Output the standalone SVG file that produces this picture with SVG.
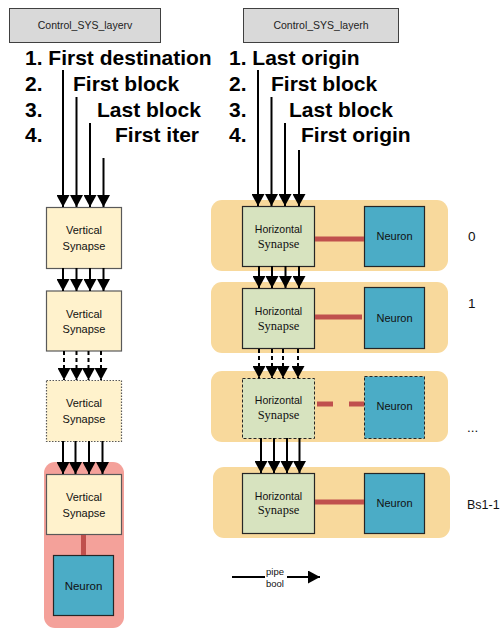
<svg xmlns="http://www.w3.org/2000/svg" width="501" height="629" viewBox="0 0 501 629">
  <defs>
    <marker id="head" markerUnits="userSpaceOnUse" markerWidth="13" markerHeight="13" viewBox="0 0 12 13" refX="12" refY="6.5" orient="auto">
      <path d="M0,0 L12,6.5 L0,13 Z" fill="#000"/>
    </marker>
    <style>
      .ctrl { fill: #d9d9d9; stroke: #404040; stroke-width: 1; }
      .ctrl-t { font-family: "Liberation Sans", Arial, sans-serif; font-size: 10.5px; fill: #222; text-anchor: middle; }
      .big { font-family: "Liberation Sans", Arial, sans-serif; font-size: 21px; font-weight: bold; fill: #000; }
      .vsyn { fill: #fff2cc; stroke: #595959; stroke-width: 1.2; }
      .vsyn-dot { fill: #fff2cc; stroke: #595959; stroke-width: 1.2; stroke-dasharray: 1.5 1.5; }
      .hsyn { fill: #d7e3bf; stroke: #262626; stroke-width: 1.2; }
      .hsyn-dash { fill: #d7e3bf; stroke: #262626; stroke-width: 1; stroke-dasharray: 3 2; }
      .neu { fill: #4bacc6; stroke: #262626; stroke-width: 1.2; }
      .neu-dash { fill: #4bacc6; stroke: #262626; stroke-width: 1; stroke-dasharray: 3 2; }
      .row { fill: #f8d99c; }
      .cell { fill: #f4a19a; }
      .lbl { font-family: "Liberation Sans", Arial, sans-serif; font-size: 11px; fill: #111; text-anchor: middle; }
      .serif { font-family: "Liberation Serif", "Times New Roman", serif; font-size: 12.5px; fill: #111; text-anchor: middle; }
      .idx { font-family: "Liberation Sans", Arial, sans-serif; font-size: 13.5px; fill: #111; }
      .small { font-family: "Liberation Sans", Arial, sans-serif; font-size: 9.5px; fill: #111; text-anchor: middle; }
      .wire { stroke: #000; stroke-width: 2; fill: none; marker-end: url(#head); }
      .wire-dash { stroke: #000; stroke-width: 2; fill: none; stroke-dasharray: 4 3; marker-end: url(#head); }
      .link { stroke: #c0504d; stroke-width: 5; fill: none; }
    </style>
  </defs>

  <rect width="501" height="629" fill="#fff"/>

  <!-- control blocks -->
  <g id="ctrl-v">
    <rect class="ctrl" x="9.5" y="8.5" width="151" height="34"/>
    <text class="ctrl-t" x="85" y="29">Control_SYS_layerv</text>
  </g>
  <g id="ctrl-h">
    <rect class="ctrl" x="243.5" y="8.5" width="155" height="34"/>
    <text class="ctrl-t" x="321" y="29">Control_SYS_layerh</text>
  </g>

  <!-- signal lists -->
  <g id="list-v">
    <text class="big" x="25" y="65">1. First destination</text>
    <text class="big" y="91"><tspan x="25">2.</tspan><tspan x="73">First block</tspan></text>
    <text class="big" y="117"><tspan x="25">3.</tspan><tspan x="97">Last block</tspan></text>
    <text class="big" y="142"><tspan x="25">4.</tspan><tspan x="115">First iter</tspan></text>
  </g>
  <g id="list-h">
    <text class="big" x="229" y="65">1. Last origin</text>
    <text class="big" y="91"><tspan x="229">2.</tspan><tspan x="271">First block</tspan></text>
    <text class="big" y="117"><tspan x="229">3.</tspan><tspan x="289">Last block</tspan></text>
    <text class="big" y="142"><tspan x="229">4.</tspan><tspan x="301">First origin</tspan></text>
  </g>

  <!-- vertical chain -->
  <g id="vsyn-0">
    <rect class="vsyn" x="46.5" y="207.5" width="75" height="61"/>
    <text class="lbl" x="84" y="234">Vertical</text>
    <text class="lbl" x="84" y="249.5">Synapse</text>
  </g>
  <g id="vsyn-1">
    <rect class="vsyn" x="46.5" y="291" width="75" height="60"/>
    <text class="lbl" x="84" y="317.5">Vertical</text>
    <text class="lbl" x="84" y="333">Synapse</text>
  </g>
  <g id="vsyn-2">
    <rect class="vsyn-dot" x="46.5" y="380.5" width="75" height="61"/>
    <text class="lbl" x="84" y="407">Vertical</text>
    <text class="lbl" x="84" y="422.5">Synapse</text>
  </g>
  <g id="vcell-last">
    <rect class="cell" x="44" y="462" width="80" height="166" rx="11"/>
    <rect class="vsyn" x="46.5" y="474.5" width="75" height="60"/>
    <text class="lbl" x="84" y="501">Vertical</text>
    <text class="lbl" x="84" y="516.5">Synapse</text>
    <rect class="neu" x="53.5" y="555.5" width="60" height="60"/>
    <text class="lbl" x="83.5" y="589.5" style="font-size:11.5px">Neuron</text>
  </g>

  <!-- horizontal rows -->
  <g id="hrow-0">
    <rect class="row" x="211" y="200" width="237" height="71" rx="11"/>
    <rect class="hsyn" x="242.5" y="206.5" width="72" height="60"/>
    <text class="lbl" x="278.5" y="233" style="font-size:10.5px">Horizontal</text>
    <text class="serif" x="278.5" y="247.5">Synapse</text>
    <rect class="neu" x="364.5" y="206.5" width="60" height="60"/>
    <text class="lbl" x="394.5" y="240">Neuron</text>
    <text class="idx" x="468" y="241">0</text>
  </g>
  <g id="hrow-1">
    <rect class="row" x="211" y="282" width="237" height="71" rx="11"/>
    <rect class="hsyn" x="242.5" y="288.5" width="72" height="60"/>
    <text class="lbl" x="278.5" y="315" style="font-size:10.5px">Horizontal</text>
    <text class="serif" x="278.5" y="329.5">Synapse</text>
    <rect class="neu" x="364.5" y="287.5" width="60" height="61"/>
    <text class="lbl" x="394.5" y="322">Neuron</text>
    <text class="idx" x="468" y="308">1</text>
  </g>
  <g id="hrow-2">
    <rect class="row" x="211" y="371" width="237" height="71" rx="11"/>
    <rect class="hsyn-dash" x="242.5" y="378.5" width="72" height="60"/>
    <text class="lbl" x="278.5" y="404" style="font-size:10.5px">Horizontal</text>
    <text class="serif" x="278.5" y="418.5">Synapse</text>
    <rect class="neu-dash" x="364.5" y="376.5" width="60" height="62"/>
    <text class="lbl" x="394.5" y="410">Neuron</text>
    <text class="idx" x="467" y="432">...</text>
  </g>
  <g id="hrow-last">
    <rect class="row" x="213" y="467" width="237" height="71" rx="11"/>
    <rect class="hsyn" x="242.5" y="473.5" width="72" height="60"/>
    <text class="lbl" x="278.5" y="499.5" style="font-size:10.5px">Horizontal</text>
    <text class="serif" x="278.5" y="514">Synapse</text>
    <rect class="neu" x="364.5" y="473.5" width="60" height="60"/>
    <text class="lbl" x="394.5" y="506.5">Neuron</text>
    <text class="idx" x="467" y="509" style="font-size:12.5px">Bs1-1</text>
  </g>

  <!-- legend -->
  <g id="legend">
    <line x1="232" y1="577" x2="265" y2="577" stroke="#000" stroke-width="2"/>
    <line x1="287" y1="577" x2="320" y2="577" stroke="#000" stroke-width="2" marker-end="url(#head)"/>
    <text class="small" x="275" y="575">pipe</text>
    <text class="small" x="275" y="587">bool</text>
  </g>

  <!-- connectors -->
  <g id="connectors">
    <!-- control lines into the vertical chain -->
    <line class="wire" x1="63" y1="70" x2="63" y2="207"/>
    <line class="wire" x1="76.5" y1="97" x2="76.5" y2="207"/>
    <line class="wire" x1="90" y1="123" x2="90" y2="207"/>
    <line class="wire" x1="103.5" y1="158" x2="103.5" y2="207"/>

    <line class="wire" x1="63" y1="268" x2="63" y2="291"/>
    <line class="wire" x1="76.5" y1="268" x2="76.5" y2="291"/>
    <line class="wire" x1="90" y1="268" x2="90" y2="291"/>
    <line class="wire" x1="103.5" y1="268" x2="103.5" y2="291"/>

    <line class="wire-dash" x1="64" y1="351" x2="64" y2="380"/>
    <line class="wire-dash" x1="76.5" y1="351" x2="76.5" y2="380"/>
    <line class="wire-dash" x1="88.5" y1="351" x2="88.5" y2="380"/>
    <line class="wire-dash" x1="101" y1="351" x2="101" y2="380"/>

    <line class="wire" x1="63" y1="441" x2="63" y2="474"/>
    <line class="wire" x1="75.5" y1="441" x2="75.5" y2="474"/>
    <line class="wire" x1="89" y1="441" x2="89" y2="474"/>
    <line class="wire" x1="102.5" y1="441" x2="102.5" y2="474" stroke="#444"/>

    <!-- control lines into the horizontal chain -->
    <line class="wire" x1="258" y1="70" x2="258" y2="206"/>
    <line class="wire" x1="271.5" y1="97" x2="271.5" y2="206"/>
    <line class="wire" x1="285" y1="123" x2="285" y2="206"/>
    <line class="wire" x1="299" y1="150" x2="299" y2="206"/>

    <line class="wire" x1="259" y1="266" x2="259" y2="288"/>
    <line class="wire" x1="272" y1="266" x2="272" y2="288"/>
    <line class="wire" x1="285.5" y1="266" x2="285.5" y2="288"/>
    <line class="wire" x1="299" y1="266" x2="299" y2="288"/>

    <line class="wire-dash" x1="259" y1="349" x2="259" y2="378"/>
    <line class="wire-dash" x1="272" y1="349" x2="272" y2="378"/>
    <line class="wire-dash" x1="283" y1="349" x2="283" y2="378"/>
    <line class="wire-dash" x1="298" y1="349" x2="298" y2="378"/>

    <line class="wire" x1="261" y1="438" x2="261" y2="473"/>
    <line class="wire" x1="274" y1="438" x2="274" y2="473"/>
    <line class="wire" x1="287" y1="438" x2="287" y2="473"/>
    <line class="wire" x1="299.5" y1="438" x2="299.5" y2="473" stroke="#444"/>

    <!-- synapse to neuron links -->
    <line class="link" x1="83.5" y1="535" x2="83.5" y2="555"/>
    <line class="link" x1="315" y1="239" x2="364" y2="239"/>
    <line class="link" x1="315" y1="317" x2="362" y2="317"/>
    <line class="link" x1="317" y1="404" x2="333" y2="404"/>
    <line class="link" x1="349" y1="404" x2="364" y2="404"/>
    <line class="link" x1="315" y1="502" x2="364" y2="502"/>
  </g>
</svg>
